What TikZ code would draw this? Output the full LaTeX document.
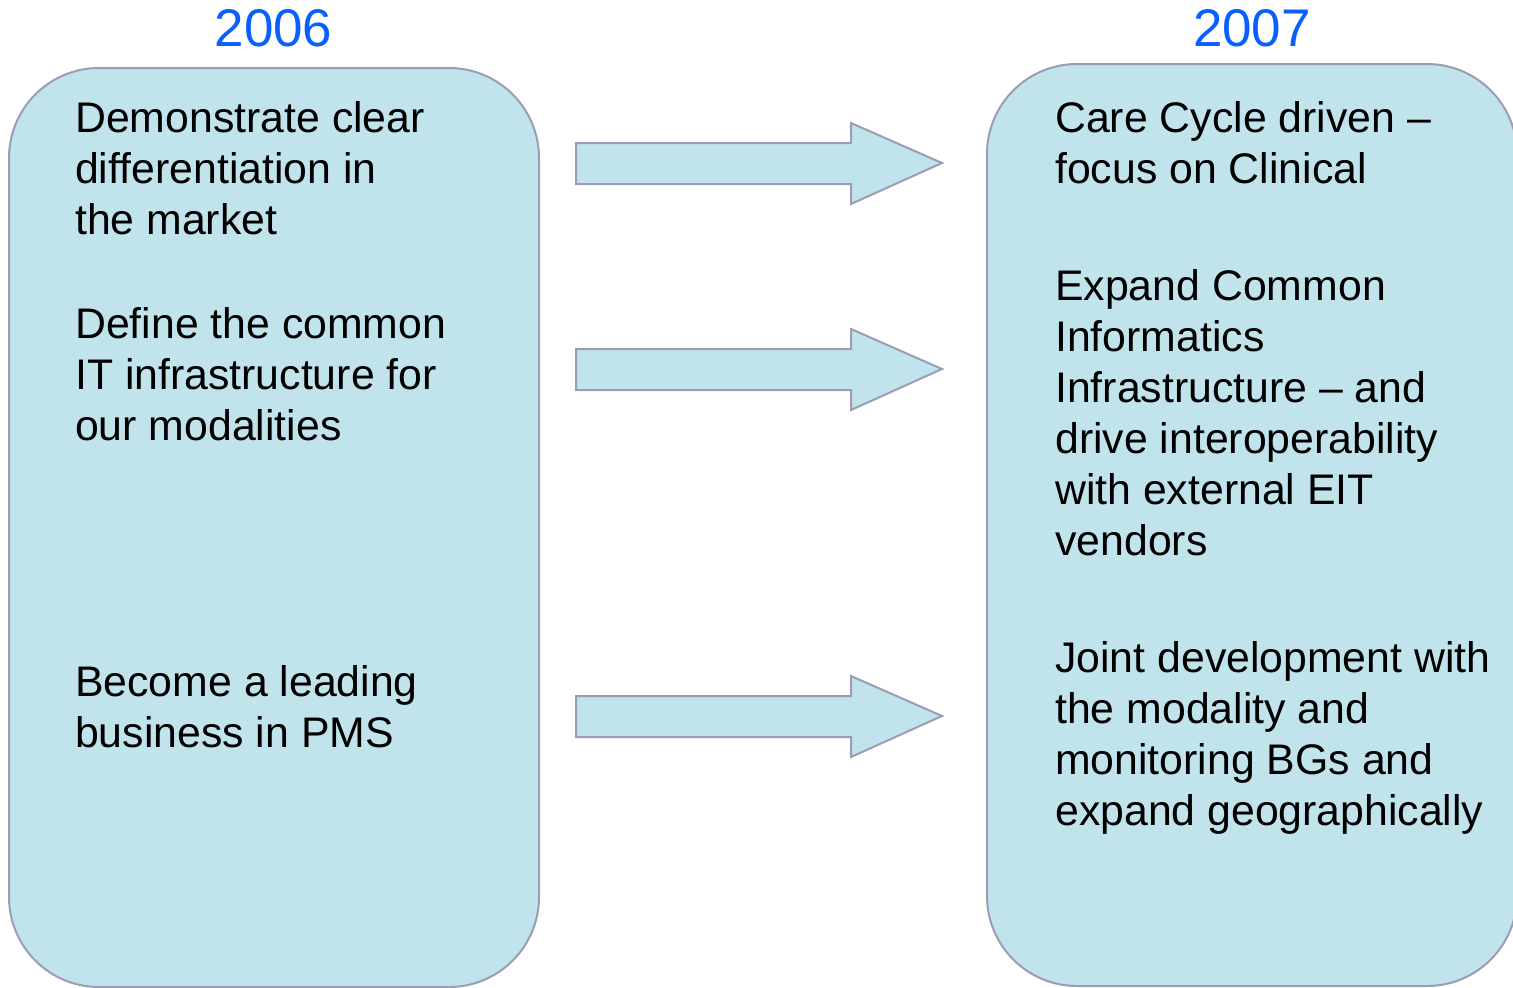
\documentclass[tikz,border=0pt]{standalone}
\usepackage{fontspec}
\setmainfont{Liberation Sans}
\definecolor{boxfill}{RGB}{192,227,236}
\definecolor{boxline}{RGB}{156,156,180}
\definecolor{yearblue}{RGB}{10,96,255}
\begin{document}
\begin{tikzpicture}[x=1pt,y=-1pt,
  panel/.style={fill=boxfill,draw=boxline,line width=2pt,rounded corners=90pt},
  blockarrow/.style={fill=boxfill,draw=boxline,line width=2pt,line join=miter},
  body/.style={anchor=base west,inner sep=0pt,align=left,font=\fontsize{42.8}{51}\selectfont,text=black},
  year/.style={anchor=base,inner sep=0pt,font=\fontsize{53}{60}\selectfont,text=yearblue}]
\useasboundingbox (0,0) rectangle (1513,988);
\begin{scope}
\clip (0,0) rectangle (1513,988);
\draw[panel] (9,68) rectangle (539,987);
\draw[panel] (987,64) rectangle (1517,986);
\end{scope}
% block arrows
\foreach \yc in {163,369,716}{
  \draw[blockarrow] (576,\yc-20) -- (851,\yc-20) -- (851,\yc-40) -- (942,\yc)
     -- (851,\yc+41) -- (851,\yc+21) -- (576,\yc+21) -- cycle;
}
\node[year] (y2006) at (273.5,46) {2006};
\node[year] (y2007) at (1252,46) {2007};
% base anchor = baseline of the last line
\node[body] (l1) at (75,234) {Demonstrate clear\\differentiation in\\the market};
\node[body] (l2) at (75,440) {Define the common\\IT infrastructure for\\our modalities};
\node[body] (l3) at (75,747) {Become a leading\\business in PMS};
\node[body] (r1) at (1055,183) {Care Cycle driven –\\focus on Clinical};
\node[body] (r2) at (1055,555) {Expand Common\\Informatics\\Infrastructure – and\\drive interoperability\\with external EIT\\vendors};
\node[body] (r3) at (1055,825) {Joint development with\\the modality and\\monitoring BGs and\\expand geographically};
\end{tikzpicture}
\end{document}
